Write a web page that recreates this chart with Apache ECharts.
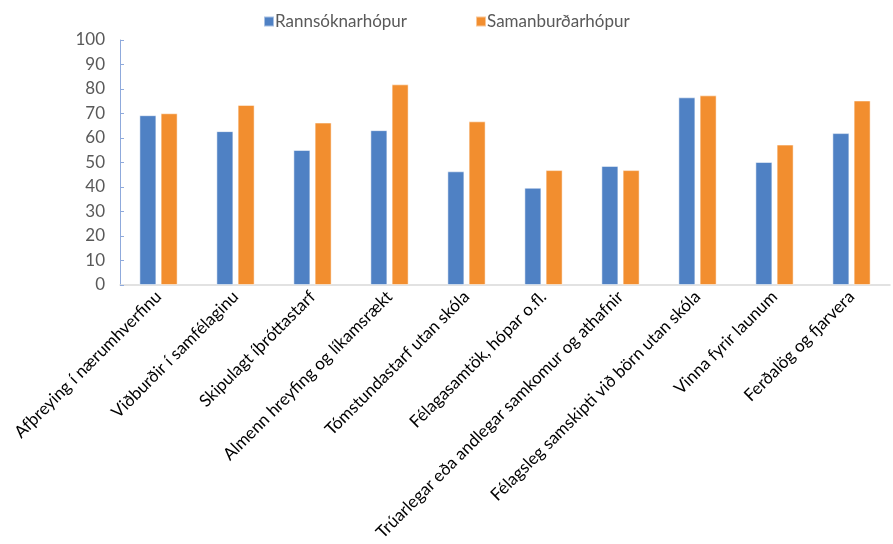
<!DOCTYPE html>
<html><head><meta charset="utf-8">
<script src="https://cdn.jsdelivr.net/npm/echarts@6/dist/echarts.min.js"></script>
<style>html,body{margin:0;padding:0;background:#fff}#c{width:893px;height:544px}</style>
</head><body><div id="c"></div>
<script>
const categories = ["Afþreying í nærumhverfinu","Viðburðir í samfélaginu","Skipulagt íþróttastarf","Almenn hreyfing og líkamsrækt","Tómstundastarf utan skóla","Félagasamtök, hópar o.fl.","Trúarlegar eða andlegar samkomur og athafnir","Félagsleg samskipti við börn utan skóla","Vinna fyrir launum","Ferðalög og fjarvera"];
const rannsoknarhopur = [69.3, 62.8, 55.1, 63.2, 46.4, 39.7, 48.6, 76.6, 50.2, 62.0];
const samanburdarhopur = [70.1, 73.5, 66.3, 81.9, 66.8, 46.9, 46.9, 77.4, 57.3, 75.3];
const yTicks = [0,10,20,30,40,50,60,70,80,90,100];

const chart = echarts.init(document.getElementById('c'));
const font = "Lato, 'Open Sans', sans-serif";
chart.setOption({
  animation:false,
  textStyle:{fontFamily:font},
  legend:{top:8,left:258,itemGap:68,itemWidth:10,itemHeight:10,icon:'rect',
    textStyle:{color:'#595959',fontSize:17,fontFamily:font,padding:[3,0,0,-4]},
    data:['Rannsóknarhópur','Samanburðarhópur']},
  grid:{left:120,right:3,top:40,bottom:259,containLabel:false,outerBoundsMode:'none'},
  xAxis:{type:'category',data:categories,
    axisLine:{lineStyle:{color:'#d9d9d9',width:1.5}},
    axisTick:{show:false},
    axisLabel:{rotate:45,interval:0,color:'#000',fontSize:17,margin:9,fontFamily:font}},
  yAxis:{type:'value',min:yTicks[0],max:yTicks[yTicks.length-1],interval:10,
    axisLine:{show:true,lineStyle:{color:'#8faadc',width:1}},
    axisTick:{show:true,inside:true,length:4,lineStyle:{color:'#8faadc'}},
    splitLine:{show:false},
    axisLabel:{color:'#595959',fontSize:17,margin:15,fontFamily:font}},
  series:[
    {name:'Rannsóknarhópur',type:'bar',data:rannsoknarhopur,barWidth:17,barGap:'25%',
     itemStyle:{color:'#4f81c4',borderColor:'rgba(255,255,255,0.5)',borderWidth:1}},
    {name:'Samanburðarhópur',type:'bar',data:samanburdarhopur,barWidth:17,
     itemStyle:{color:'#f28e2f',borderColor:'rgba(255,255,255,0.5)',borderWidth:1}}
  ]
});
</script></body></html>
